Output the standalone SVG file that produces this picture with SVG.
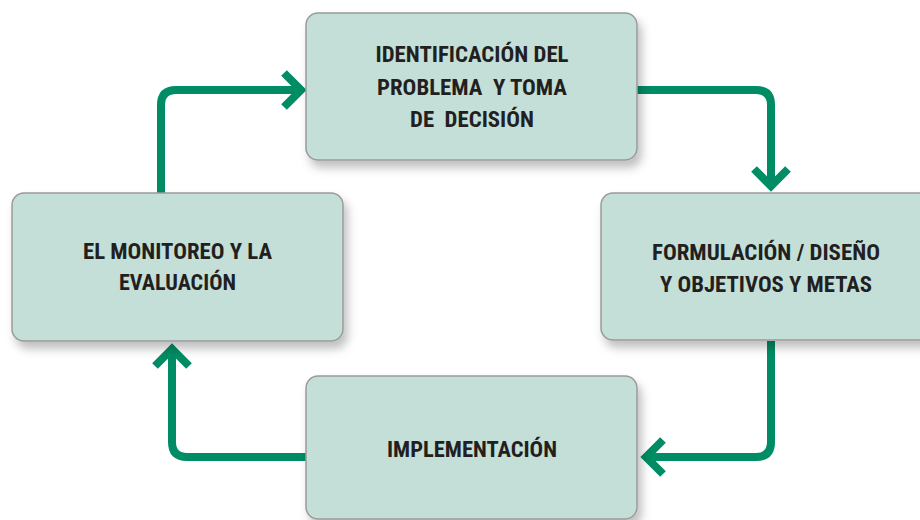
<svg xmlns="http://www.w3.org/2000/svg" width="920" height="520" viewBox="0 0 920 520">
  <defs>
    <filter id="shadow" x="-10%" y="-10%" width="130%" height="140%">
      <feDropShadow dx="4" dy="7" stdDeviation="5" flood-color="#000" flood-opacity="0.25"/>
    </filter>
  </defs>
  <style>
    .box { fill: #C4DFD8; stroke: #9A9A9A; stroke-width: 1.5; filter: url(#shadow); }
    .lbl { font-family: "Liberation Sans Narrow", "Roboto Condensed", "Liberation Sans", Arial, sans-serif; font-weight: bold; font-size: 22px; fill: #231F20; text-anchor: middle; white-space: pre; }
    .conn { fill: none; stroke: #008C64; stroke-width: 8; stroke-linecap: butt; stroke-linejoin: miter; }
  </style>
  <rect width="920" height="520" fill="#FFFFFF"/>

  <g id="connectors">
    <path class="conn" d="M161,193 V105 Q161,90 176,90 H300"/>
    <polyline class="conn" points="284,73 301,90 284,107"/>
    <path class="conn" d="M637,90 H756 Q771,90 771,105 V186"/>
    <polyline class="conn" points="754,169 771,186 788,169"/>
    <path class="conn" d="M771,341 V442 Q771,457 756,457 H646"/>
    <polyline class="conn" points="663,440 646,457 663,474"/>
    <path class="conn" d="M306,457 H187 Q172,457 172,442 V349"/>
    <polyline class="conn" points="155,366 172,349 189,366"/>
  </g>

  <g id="node-identificacion">
    <rect class="box" x="306" y="13" width="331" height="147" rx="12"/>
    <text class="lbl" x="472" y="62" textLength="193" lengthAdjust="spacingAndGlyphs">IDENTIFICACIÓN DEL</text>
    <text class="lbl" x="472" y="95" textLength="190" lengthAdjust="spacingAndGlyphs">PROBLEMA  Y TOMA</text>
    <text class="lbl" x="472" y="127" textLength="124" lengthAdjust="spacingAndGlyphs">DE  DECISIÓN</text>
  </g>

  <g id="node-formulacion">
    <rect class="box" x="601" y="193" width="340" height="147" rx="12"/>
    <text class="lbl" x="766" y="260" textLength="228" lengthAdjust="spacingAndGlyphs">FORMULACIÓN / DISEÑO</text>
    <text class="lbl" x="766" y="292" textLength="212" lengthAdjust="spacingAndGlyphs">Y OBJETIVOS Y METAS</text>
  </g>

  <g id="node-monitoreo">
    <rect class="box" x="12" y="193" width="331" height="148" rx="12"/>
    <text class="lbl" x="177.5" y="259" textLength="189" lengthAdjust="spacingAndGlyphs">EL MONITOREO Y LA</text>
    <text class="lbl" x="177.5" y="290" textLength="117" lengthAdjust="spacingAndGlyphs">EVALUACIÓN</text>
  </g>

  <g id="node-implementacion">
    <rect class="box" x="306" y="376" width="331" height="143" rx="12"/>
    <text class="lbl" x="472" y="457" textLength="170" lengthAdjust="spacingAndGlyphs">IMPLEMENTACIÓN</text>
  </g>
</svg>
